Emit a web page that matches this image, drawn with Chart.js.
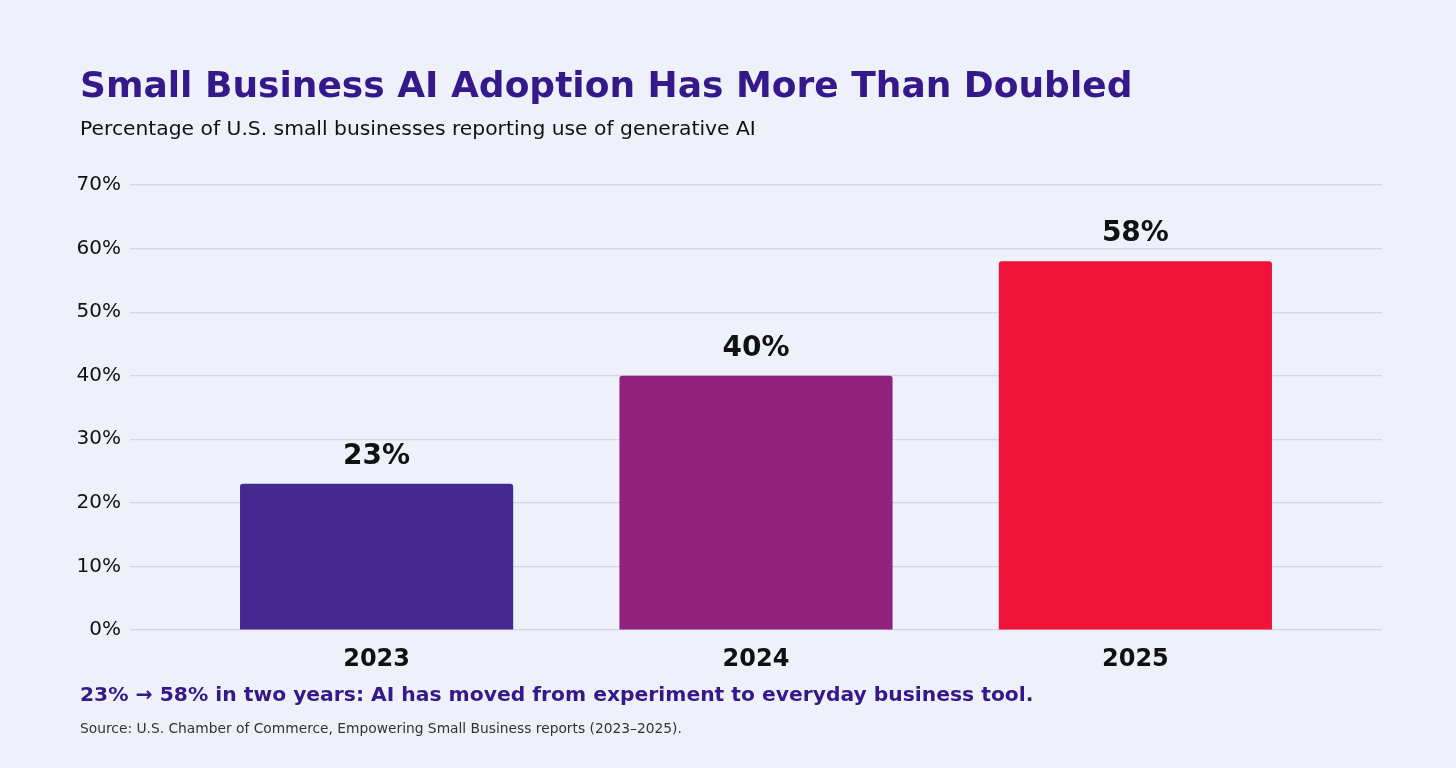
<!DOCTYPE html>
<html>
<head>
<meta charset="utf-8">
<script src="https://cdn.jsdelivr.net/npm/chart.js@4.4.1/dist/chart.umd.min.js"></script>
<style>
  html, body { margin: 0; padding: 0; background: #eef1fa; }
  body { width: 1456px; height: 768px; position: relative; overflow: hidden; font-family: "DejaVu Sans", sans-serif; }
  #wrap { position: absolute; left: 0; top: 0; width: 1456px; height: 768px; }
  .txt { position: absolute; left: 80px; white-space: nowrap; }
  #title { top: 64px; font-size: 36px; font-weight: bold; color: #35198a; }
  #subtitle { top: 116px; font-size: 20.3px; color: #111; }
  #takeaway { top: 682px; font-size: 20.3px; font-weight: bold; color: #35198a; }
  #source { top: 720px; font-size: 13.8px; color: #333; }
</style>
</head>
<body>
<div id="wrap"><canvas id="chart"></canvas></div>
<div class="txt" id="title">Small Business AI Adoption Has More Than Doubled</div>
<div class="txt" id="subtitle">Percentage of U.S. small businesses reporting use of generative AI</div>
<div class="txt" id="takeaway">23% → 58% in two years: AI has moved from experiment to everyday business tool.</div>
<div class="txt" id="source">Source: U.S. Chamber of Commerce, Empowering Small Business reports (2023–2025).</div>
<script>
const years = ['2023', '2024', '2025'];
const adoption = [23, 40, 58];
const barColors = ['#44278f', '#90217c', '#f01339'];
const yTicks = [0, 10, 20, 30, 40, 50, 60, 70];

// value labels above the bars
const valueLabels = {
    id: 'valueLabels',
    afterDatasetsDraw(chart) {
        const ctx = chart.ctx;
        const x = chart.scales.x;
        const y = chart.scales.y;
        ctx.save();
        ctx.font = 'bold 28px "DejaVu Sans"';
        ctx.fillStyle = '#111';
        ctx.textAlign = 'center';
        ctx.textBaseline = 'alphabetic';
        adoption.forEach((v, i) => {
            ctx.fillText(v + '%', x.getPixelForValue(i), y.getPixelForValue(v) - 20);
        });
        ctx.restore();
    }
};

const ctx = document.getElementById('chart').getContext('2d');
new Chart(ctx, {
    type: 'bar',
    data: {
        datasets: [{
            data: adoption.map((v, i) => ({ x: i, y: v })),
            backgroundColor: barColors,
            borderRadius: { topLeft: 3, topRight: 3 },
            borderSkipped: 'bottom',
            barPercentage: 0.72,
            categoryPercentage: 1
        }]
    },
    options: {
        responsive: true,
        maintainAspectRatio: false,
        animation: false,
        layout: { padding: { top: 185, right: 74, bottom: 78, left: 0 } },
        plugins: { legend: { display: false }, tooltip: { enabled: false } },
        scales: {
            x: {
                type: 'linear',
                offset: false,
                min: -0.65,
                max: 2.65,
                afterBuildTicks: s => { s.ticks = years.map((_, i) => ({ value: i })); },
                afterFit: s => { s.height = 60; },
                grid: { display: false },
                border: { display: false },
                ticks: {
                    color: '#111',
                    padding: 7,
                    font: { family: 'DejaVu Sans', size: 24, weight: 'bold' },
                    callback: v => years[v]
                }
            },
            y: {
                min: 0,
                max: 70,
                afterBuildTicks: s => { s.ticks = yTicks.map(v => ({ value: v })); },
                afterFit: s => { s.width = 130; },
                grid: { color: '#d4d7e3', lineWidth: 1.2, drawTicks: false },
                border: { display: false },
                ticks: {
                    color: '#111',
                    padding: 9,
                    font: { family: 'DejaVu Sans', size: 20 },
                    callback: v => v + '%'
                }
            }
        }
    },
    plugins: [valueLabels]
});
</script>
</body>
</html>
